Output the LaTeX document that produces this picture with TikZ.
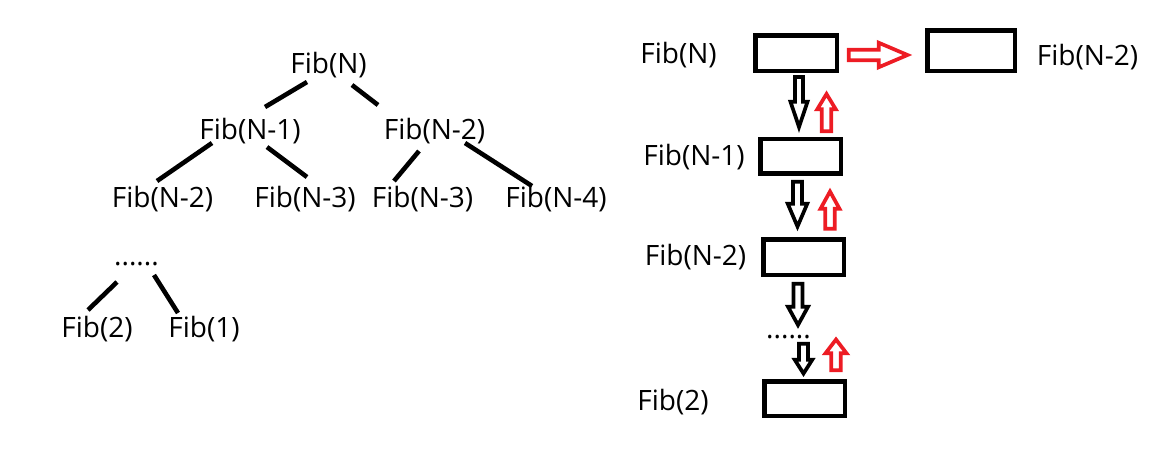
\documentclass[tikz,border=0pt]{standalone}
\usepackage{fontspec}
\setmainfont{Open Sans}
\usetikzlibrary{calc}
\definecolor{pred}{RGB}{237,28,36}
\newcommand{\blockarr}[6]{%
  \coordinate (baS) at #2;
  \coordinate (baT) at #3;
  \coordinate (baH) at ($(baT)!#6pt!(baS)$);
  \draw[#1] ($(baS)!#4pt!90:(baT)$) -- ($(baH)!#4pt!-90:(baS)$) -- ($(baH)!#5pt!-90:(baS)$) -- (baT) -- ($(baH)!#5pt!90:(baS)$) -- ($(baH)!#4pt!90:(baS)$) -- ($(baS)!#4pt!-90:(baT)$) -- cycle;
}
\begin{document}
\begin{tikzpicture}[x=1pt,y=-1pt,
  lbl/.style={font=\fontsize{28}{30}\selectfont, inner sep=0pt, anchor=base},
  edge/.style={line width=4.6pt},
  box/.style={draw, line width=4.5pt, inner sep=0pt},
  blk/.style={draw=black, fill=white, line width=3.7pt, miter limit=10},
  redarr/.style={draw=pred, fill=white, line width=3.7pt, miter limit=10}]
\useasboundingbox (0,0) rectangle (1153,451);
% tree
\node[lbl] (fN)  at (328.5,73) {Fib(N)};
\node[lbl] (fN1) at (250,139) {Fib(N-1)};
\node[lbl] (fN2) at (434.5,139) {Fib(N-2)};
\node[lbl] (r1)  at (162.5,207) {Fib(N-2)};
\node[lbl] (r2)  at (305,207) {Fib(N-3)};
\node[lbl] (r3)  at (422.5,207) {Fib(N-3)};
\node[lbl] (r4)  at (556,207) {Fib(N-4)};
\node[lbl] (dots) at (136.5,265) {......};
\node[lbl] (f2)  at (97,337) {Fib(2)};
\node[lbl] (f1)  at (204,337) {Fib(1)};
\draw[edge] ($(fN.base)+(-21.5,9)$) -- ($(fN1.base)+(15,-32)$);
\draw[edge] ($(fN.base)+(23.5,12)$) -- ($(fN2.base)+(-56.5,-34)$);
\draw[edge] ($(fN1.base)+(-38,4)$) -- ($(r1.base)+(-5.5,-26)$);
\draw[edge] ($(fN1.base)+(17,8)$) -- ($(r2.base)+(2,-30)$);
\draw[edge] ($(fN2.base)+(-15.5,12)$) -- ($(r3.base)+(-28.5,-26)$);
\draw[edge] ($(fN2.base)+(30.5,4)$) -- ($(r4.base)+(-24,-21)$);
\draw[edge] ($(dots.base)+(-19.5,17)$) -- ($(f2.base)+(-9,-27)$);
\draw[edge] ($(dots.base)+(17.5,10)$) -- ($(f1.base)+(-26,-24)$);
% stack
\node[box, minimum width=81.5pt, minimum height=35.5pt] (b1) at (796,53) {};
\node[box, minimum width=87.5pt, minimum height=40.5pt] (bR) at (971,50.5) {};
\node[box, minimum width=80.5pt, minimum height=34.8pt] (b2) at (800.5,156.3) {};
\node[box, minimum width=80.5pt, minimum height=35.5pt] (b3) at (803.5,257) {};
\node[box, minimum width=80.5pt, minimum height=34.5pt] (b4) at (804.5,398.5) {};
\node[lbl] (lN)  at (678.5,63) {Fib(N)};
\node[lbl] (lN1) at (694,165) {Fib(N-1)};
\node[lbl] (lN2) at (695.5,265) {Fib(N-2)};
\node[lbl] (l2)  at (673,410) {Fib(2)};
\node[lbl] (lR)  at (1087.5,65) {Fib(N-2)};
\node[lbl] (rdots) at (788.5,338) {......};
\blockarr{blk}{(799,77)}{(799,127)}{4}{8.5}{25.25}
\blockarr{redarr}{(826.5,131.25)}{(826.5,94)}{4.75}{9.25}{15.25}
\blockarr{redarr}{(848.75,55)}{(907.5,55)}{5.25}{12.25}{28.75}
\blockarr{blk}{(797.5,181.75)}{(797.5,226.5)}{4.5}{9.75}{22.75}
\blockarr{redarr}{(830,228.75)}{(830,191.5)}{4.75}{9.5}{17.25}
\blockarr{blk}{(798,283.75)}{(798,325)}{4.5}{10}{18.25}
\blockarr{blk}{(803.5,343.75)}{(803.5,373.5)}{4.5}{8.75}{13.75}
\blockarr{redarr}{(836,370.25)}{(836,339.5)}{4.75}{10.5}{13.75}
\end{tikzpicture}
\end{document}
